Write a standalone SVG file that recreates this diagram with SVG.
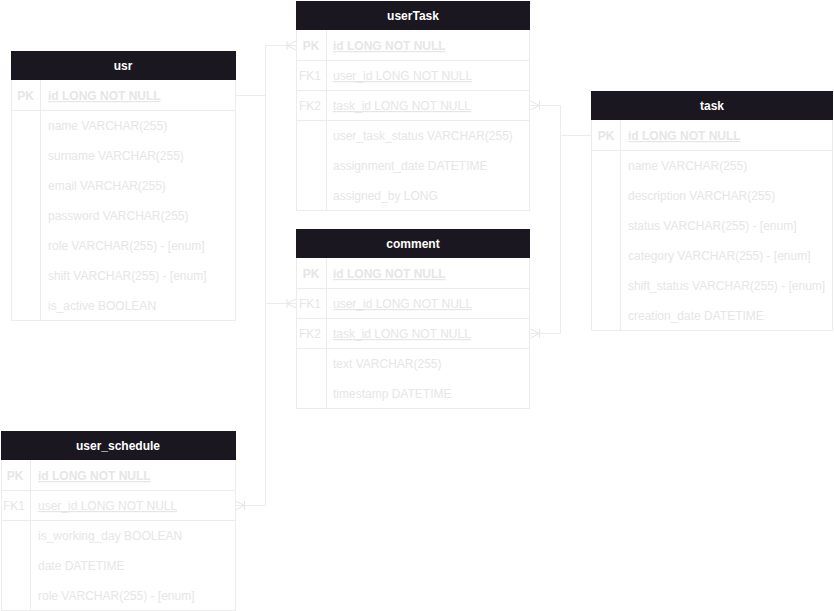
<svg xmlns="http://www.w3.org/2000/svg" width="834" height="611" viewBox="0 0 834 611">
<style>
  text { font-family: "Liberation Sans", Arial, Helvetica, sans-serif; font-size: 12px; }
  .hdr { fill: #1a1721; }
  .title { fill: #ffffff; font-weight: bold; text-anchor: middle; }
  .box { fill: #ffffff; stroke: #ececec; stroke-width: 1; }
  .ln { stroke: #ececec; stroke-width: 1; fill: none; }
  .key { fill: #e6e6e6; text-anchor: middle; }
  .pk { font-weight: bold; }
  .fld { fill: #e6e6e6; }
  .u { text-decoration: underline; }
  .b { font-weight: bold; }
  .edge { stroke: #ececec; stroke-width: 1; fill: none; marker-end: url(#many); }
</style>
<defs>
  <marker id="many" viewBox="-11 -6 12 12" markerWidth="12" markerHeight="12" refX="0" refY="0" orient="auto" markerUnits="userSpaceOnUse">
    <path d="M-9,0 L0,-4.5 M-9,0 L0,4.5 M-9,-4.5 V4.5" fill="none" stroke="#e6e6e6" stroke-width="1"/>
  </marker>
</defs>
<rect width="834" height="611" fill="#ffffff"/>

<g id="connectors">
  <path class="edge" d="M235.5,95.5 H265.5 V45.5 H296"/>
  <path class="edge" d="M235.5,95.5 H265.5 V303.5 H296"/>
  <path class="edge" d="M235.5,95.5 H265.5 V505.5 H235.5"/>
  <path class="edge" d="M591,135.5 H560.5 V105.5 H530.5"/>
  <path class="edge" d="M591,135.5 H560.5 V333.5 H530.5"/>
</g>

<g id="usr">
  <rect class="box" x="11.5" y="51.5" width="224" height="269"/>
  <rect class="hdr" x="11" y="51" width="225" height="29"/>
  <line class="ln" x1="40.5" y1="80" x2="40.5" y2="320"/>
  <line class="ln" x1="11.5" y1="110.5" x2="235.5" y2="110.5"/>
  <text class="title" x="123" y="70">usr</text>
  <text class="key pk" x="25.5" y="100">PK</text>
  <text class="fld b u" x="48" y="100">id LONG NOT NULL</text>
  <text class="fld" x="48" y="130">name VARCHAR(255)</text>
  <text class="fld" x="48" y="160">surname VARCHAR(255)</text>
  <text class="fld" x="48" y="190">email VARCHAR(255)</text>
  <text class="fld" x="48" y="220">password VARCHAR(255)</text>
  <text class="fld" x="48" y="250">role VARCHAR(255) - [enum]</text>
  <text class="fld" x="48" y="280">shift VARCHAR(255) - [enum]</text>
  <text class="fld" x="48" y="310">is_active BOOLEAN</text>
</g>

<g id="userTask">
  <rect class="box" x="296.5" y="1.5" width="233" height="209"/>
  <rect class="hdr" x="296" y="1" width="234" height="29"/>
  <line class="ln" x1="326.5" y1="30" x2="326.5" y2="210"/>
  <line class="ln" x1="296.5" y1="60.5" x2="529.5" y2="60.5"/>
  <line class="ln" x1="296.5" y1="90.5" x2="529.5" y2="90.5"/>
  <line class="ln" x1="296.5" y1="120.5" x2="529.5" y2="120.5"/>
  <text class="title" x="413" y="20">userTask</text>
  <text class="key pk" x="311" y="50">PK</text>
  <text class="fld b u" x="333" y="50">id LONG NOT NULL</text>
  <text class="key" x="310" y="80">FK1</text>
  <text class="fld u" x="333" y="80">user_id LONG NOT NULL</text>
  <text class="key" x="310" y="110">FK2</text>
  <text class="fld u" x="333" y="110">task_id LONG NOT NULL</text>
  <text class="fld" x="333" y="140">user_task_status VARCHAR(255)</text>
  <text class="fld" x="333" y="170">assignment_date DATETIME</text>
  <text class="fld" x="333" y="200">assigned_by LONG</text>
</g>

<g id="comment">
  <rect class="box" x="296.5" y="229.5" width="233" height="179"/>
  <rect class="hdr" x="296" y="229" width="234" height="29"/>
  <line class="ln" x1="326.5" y1="258" x2="326.5" y2="408"/>
  <line class="ln" x1="296.5" y1="288.5" x2="529.5" y2="288.5"/>
  <line class="ln" x1="296.5" y1="318.5" x2="529.5" y2="318.5"/>
  <line class="ln" x1="296.5" y1="348.5" x2="529.5" y2="348.5"/>
  <text class="title" x="413" y="248">comment</text>
  <text class="key pk" x="311" y="278">PK</text>
  <text class="fld b u" x="333" y="278">id LONG NOT NULL</text>
  <text class="key" x="310" y="308">FK1</text>
  <text class="fld u" x="333" y="308">user_id LONG NOT NULL</text>
  <text class="key" x="310" y="338">FK2</text>
  <text class="fld u" x="333" y="338">task_id LONG NOT NULL</text>
  <text class="fld" x="333" y="368">text VARCHAR(255)</text>
  <text class="fld" x="333" y="398">timestamp DATETIME</text>
</g>

<g id="task">
  <rect class="box" x="591.5" y="91.5" width="241" height="239"/>
  <rect class="hdr" x="591" y="91" width="242" height="29"/>
  <line class="ln" x1="620.5" y1="120" x2="620.5" y2="330"/>
  <line class="ln" x1="591.5" y1="150.5" x2="832.5" y2="150.5"/>
  <text class="title" x="712" y="110">task</text>
  <text class="key pk" x="606" y="140">PK</text>
  <text class="fld b u" x="628" y="140">id LONG NOT NULL</text>
  <text class="fld" x="628" y="170">name VARCHAR(255)</text>
  <text class="fld" x="628" y="200">description VARCHAR(255)</text>
  <text class="fld" x="628" y="230">status VARCHAR(255) - [enum]</text>
  <text class="fld" x="628" y="260">category VARCHAR(255) - [enum]</text>
  <text class="fld" x="628" y="290">shift_status VARCHAR(255) - [enum]</text>
  <text class="fld" x="628" y="320">creation_date DATETIME</text>
</g>

<g id="user_schedule">
  <rect class="box" x="1.5" y="431.5" width="234" height="179"/>
  <rect class="hdr" x="1" y="431" width="235" height="29"/>
  <line class="ln" x1="30.5" y1="460" x2="30.5" y2="610"/>
  <line class="ln" x1="1.5" y1="490.5" x2="235.5" y2="490.5"/>
  <line class="ln" x1="1.5" y1="520.5" x2="235.5" y2="520.5"/>
  <text class="title" x="118" y="450">user_schedule</text>
  <text class="key pk" x="15" y="480">PK</text>
  <text class="key" x="14" y="510">FK1</text>
  <text class="fld b u" x="38" y="480">id LONG NOT NULL</text>
  <text class="fld u" x="38" y="510">user_id LONG NOT NULL</text>
  <text class="fld" x="38" y="540">is_working_day BOOLEAN</text>
  <text class="fld" x="38" y="570">date DATETIME</text>
  <text class="fld" x="38" y="600">role VARCHAR(255) - [enum]</text>
</g>
</svg>
